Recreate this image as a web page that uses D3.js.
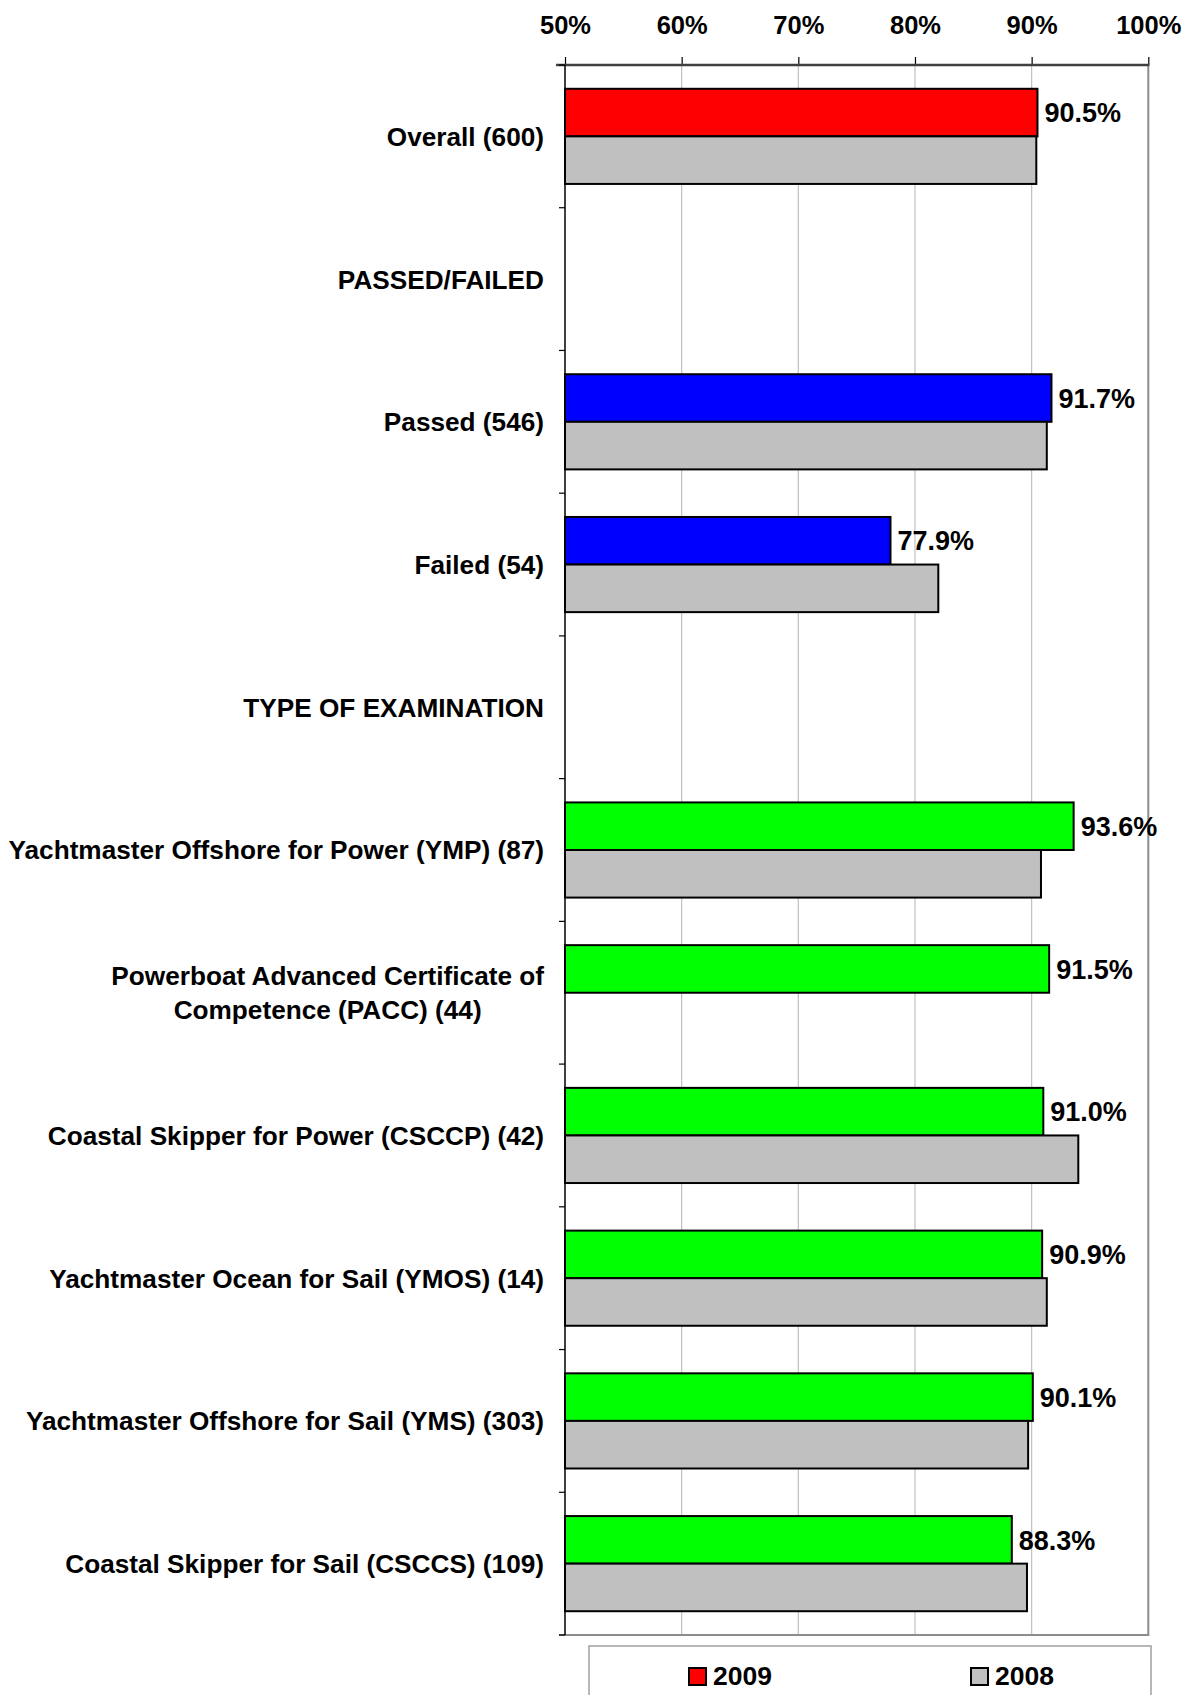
<!DOCTYPE html>
<html>
<head>
<meta charset="utf-8">
<script src="https://cdn.jsdelivr.net/npm/d3@7"></script>
<style>
  body { margin: 0; background: #fff; }
  svg { display: block; font-family: "Liberation Sans", Arial, sans-serif; font-weight: bold; }
</style>
</head>
<body>
<div id="chart"></div>
<script>
(function () {
    const width = 1191;
    const height = 1695;
    const margin = { top: 65, right: 43, bottom: 60, left: 565 };

    // Data
    const categories = [
        "Overall (600)",
        "PASSED/FAILED",
        "Passed (546)",
        "Failed (54)",
        "TYPE OF EXAMINATION",
        "Yachtmaster Offshore for Power (YMP) (87)",
        "Powerboat Advanced Certificate of Competence (PACC) (44)",
        "Coastal Skipper for Power (CSCCP) (42)",
        "Yachtmaster Ocean for Sail (YMOS) (14)",
        "Yachtmaster Offshore for Sail (YMS) (303)",
        "Coastal Skipper for Sail (CSCCS) (109)"
    ];
    // wrapped label lines (only where the original wraps)
    const labelLines = {
        "Powerboat Advanced Certificate of Competence (PACC) (44)": ["Powerboat Advanced Certificate of", "Competence (PACC) (44)"]
    };
    const groups = ["overall", null, "passfail", "passfail", null, "exam", "exam", "exam", "exam", "exam", "exam"];
    const values2009 = [90.5, null, 91.7, 77.9, null, 93.6, 91.5, 91.0, 90.9, 90.1, 88.3];
    const values2008 = [90.4, null, 91.3, 82.0, null, 90.8, null, 94.0, 91.3, 89.7, 89.6];
    const series = ["2009", "2008"];
    const ticks = [50, 60, 70, 80, 90, 100];

    const groupColor = { overall: "#ff0000", passfail: "#0000ff", exam: "#00ff00" };
    const color2008 = "#c0c0c0";

    const labelSize = "26.2px";
    const plotW = 1148.3 - margin.left;
    const plotBottom = 1635;

    const svg = d3.select("#chart")
        .append("svg")
        .attr("width", width)
        .attr("height", height);

    const x = d3.scaleLinear().domain([50, 100]).range([margin.left, margin.left + plotW]);
    const y = d3.scaleBand().domain(categories).range([margin.top, plotBottom]);
    const y1 = d3.scaleBand().domain(series).range([0, y.bandwidth()]).paddingOuter(0.5);

    // Gridlines
    svg.append("g")
        .selectAll("line")
        .data(ticks.filter(t => t > 50 && t < 100))
        .enter()
        .append("line")
        .attr("x1", d => x(d)).attr("x2", d => x(d))
        .attr("y1", margin.top).attr("y2", plotBottom)
        .style("stroke", "#c0c0c0")
        .style("stroke-width", 1.2);

    // right and bottom plot border
    svg.append("line")
        .attr("x1", x(100)).attr("x2", x(100))
        .attr("y1", margin.top).attr("y2", plotBottom)
        .style("stroke", "#8c8c8c").style("stroke-width", 2);
    svg.append("line")
        .attr("x1", x(50) - 6).attr("x2", x(100) + 1)
        .attr("y1", plotBottom).attr("y2", plotBottom)
        .style("stroke", "#8c8c8c").style("stroke-width", 2);

    // Bars
    const rows = categories.map((c, i) => ({ c, i }));
    const barG = svg.append("g");
    rows.forEach(r => {
        const vals = [values2009[r.i], values2008[r.i]];
        series.forEach((s, k) => {
            if (vals[k] == null) return;
            barG.append("rect")
                .attr("x", x(50))
                .attr("y", y(r.c) + y1(s))
                .attr("width", x(vals[k]) - x(50))
                .attr("height", y1.bandwidth())
                .style("fill", k === 0 ? groupColor[groups[r.i]] : color2008)
                .style("stroke", "#000")
                .style("stroke-width", 2);
        });
    });

    // Value labels (2009)
    svg.append("g")
        .selectAll("text")
        .data(rows.filter(r => values2009[r.i] != null))
        .enter()
        .append("text")
        .attr("x", d => x(values2009[d.i]) + 7)
        .attr("y", d => y(d.c) + y1("2009") + y1.bandwidth() / 2)
        .attr("dy", "0.36em")
        .style("font-size", "27px")
        .style("fill", "#000")
        .text(d => values2009[d.i].toFixed(1) + "%");

    // Top axis
    const xAxis = d3.axisTop(x)
        .tickValues(ticks)
        .tickFormat(d => d + "%")
        .tickSize(8)
        .tickPadding(23);
    const gx = svg.append("g")
        .attr("transform", `translate(0,${margin.top})`)
        .call(xAxis);
    gx.select(".domain").remove();
    gx.selectAll(".tick line").style("stroke", "#000").style("stroke-width", 1.2);
    gx.selectAll(".tick text")
        .style("font-family", "'Liberation Sans', Arial, sans-serif")
        .style("font-weight", "bold")
        .style("font-size", "25.5px")
        .style("fill", "#000");
    svg.append("line")
        .attr("x1", x(50) - 9).attr("x2", x(100) + 1)
        .attr("y1", margin.top).attr("y2", margin.top)
        .style("stroke", "#404040").style("stroke-width", 2.5);

    // Left axis line + band ticks
    svg.append("line")
        .attr("x1", x(50)).attr("x2", x(50))
        .attr("y1", margin.top).attr("y2", plotBottom)
        .style("stroke", "#000").style("stroke-width", 1.5);
    svg.append("g")
        .selectAll("line")
        .data(categories.map(c => y(c)).concat([plotBottom]))
        .enter()
        .append("line")
        .attr("x1", x(50) - 6).attr("x2", x(50))
        .attr("y1", d => d).attr("y2", d => d)
        .style("stroke", "#000").style("stroke-width", 1.2);

    // Category labels
    const labels = svg.append("g")
        .selectAll("text")
        .data(categories)
        .enter()
        .append("text")
        .style("font-size", labelSize)
        .style("fill", "#000");
    labels.each(function (c) {
        const t = d3.select(this);
        const cy = y(c) + y.bandwidth() / 2;
        const lines = labelLines[c];
        if (!lines) {
            t.attr("x", 544).attr("y", cy).attr("dy", "0.36em")
                .attr("text-anchor", "end").text(c);
        } else {
            // centered block, right edge at 544
            t.attr("text-anchor", "middle");
            const tmp = svg.append("text").style("font-size", labelSize).text(lines[0]);
            const w = tmp.node().getComputedTextLength();
            tmp.remove();
            const cx = 544 - w / 2;
            lines.forEach((ln, k) => {
                t.append("tspan")
                    .attr("x", cx)
                    .attr("y", cy + (k - (lines.length - 1) / 2) * 34)
                    .attr("dy", "0.36em")
                    .text(ln);
            });
        }
    });

    // Legend
    const legend = svg.append("g");
    legend.append("rect")
        .attr("x", 589).attr("y", 1646)
        .attr("width", 562).attr("height", 120)
        .style("fill", "#fff")
        .style("stroke", "#a0a0a0")
        .style("stroke-width", 1.5);
    const legendItems = [
        { name: "2009", fill: groupColor.overall, lx: 689 },
        { name: "2008", fill: color2008, lx: 971 }
    ];
    legendItems.forEach(d => {
        legend.append("rect")
            .attr("x", d.lx).attr("y", 1668)
            .attr("width", 17).attr("height", 17)
            .style("fill", d.fill)
            .style("stroke", "#000")
            .style("stroke-width", 2);
        legend.append("text")
            .attr("x", d.lx + 24).attr("y", 1685)
            .style("font-size", "26.5px")
            .style("fill", "#000")
            .text(d.name);
    });
})();
</script>
</body>
</html>
